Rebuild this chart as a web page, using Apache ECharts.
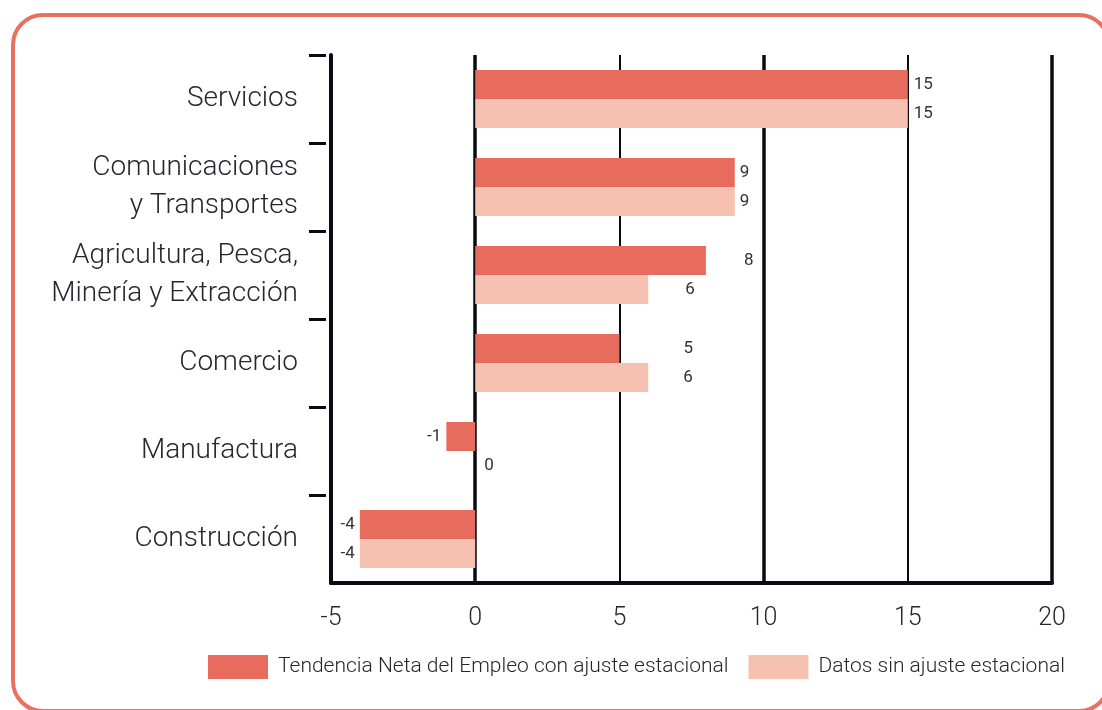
<!DOCTYPE html>
<html>
<head>
<meta charset="utf-8">
<script src="https://cdn.jsdelivr.net/npm/echarts@6/dist/echarts.min.js"></script>
<style>
  html, body { margin: 0; padding: 0; background: #fff; overflow: hidden; }
  #frame { position: absolute; left: 11px; top: 13px; width: 1100px; height: 700px; box-sizing: border-box;
           border: 4px solid #E8705F; border-radius: 32px; pointer-events: none; }
  #chart { position: absolute; left: 0; top: 0; width: 1102px; height: 710px; }
</style>
</head>
<body>
<div id="frame"></div>
<div id="chart"></div>
<script>
const categories = ['Servicios', 'Comunicaciones\ny Transportes', 'Agricultura, Pesca,\nMinería y Extracción', 'Comercio', 'Manufactura', 'Construcción'];
const seriesNames = ['Tendencia Neta del Empleo con ajuste estacional', 'Datos sin ajuste estacional'];
const tendencia = [15, 9, 8, 5, -1, -4];
const sinAjuste = [15, 9, 6, 6, 0, -4];
const xMin = -5, xMax = 20, xStep = 5;
const heavyLines = [0, 10, 20];

// label distances (style only)
const tendLabelGap = [6, 5, 38, 64, 5, 5];
const sinLabelGap = [6, 5, 37, 35, 9, 5];

const colors = ['#E76C5E', '#F7C1B2'];
const textColor = '#26262e';
const font = 'Roboto, "Liberation Sans", sans-serif';

function items(vals, gaps) {
  return vals.map((v, i) => ({
    value: v,
    label: { position: v < 0 ? 'left' : 'right', distance: gaps[i] }
  }));
}

const chart = echarts.init(document.getElementById('chart'), null, { renderer: 'canvas' });
chart.setOption({
  animation: false,
  backgroundColor: 'transparent',
  grid: { left: 331, right: 50, top: 55, bottom: 127, containLabel: false },
  xAxis: {
    type: 'value', min: xMin, max: xMax, interval: xStep,
    axisLine: { show: true, onZero: false, lineStyle: { color: '#0a0a14', width: 4 } },
    axisTick: { show: false },
    axisLabel: { color: textColor, fontSize: 25, margin: 23, fontFamily: font, fontWeight: 300 },
    splitLine: { show: true, lineStyle: { color: '#0a0a14', width: 2 } }
  },
  yAxis: [
    {
      type: 'category', data: categories, inverse: true, position: 'left',
      axisLine: { show: true, onZero: false, lineStyle: { color: '#0a0a14', width: 4 } },
      axisTick: { show: false },
      axisLabel: { color: textColor, fontSize: 28, lineHeight: 38, margin: 33, align: 'right',
                   fontFamily: font, fontWeight: 300 }
    },
    {
      type: 'value', min: 0, max: 6, interval: 1, inverse: true, position: 'left', offset: 5,
      axisLine: { show: false, onZero: false },
      axisTick: { show: true, length: 17, lineStyle: { color: '#0a0a14', width: 3 }, customValues: [0, 1, 2, 3, 4, 5] },
      axisLabel: { show: false },
      splitLine: { show: false }
    }
  ],
  legend: {
    left: 203, top: 650, itemWidth: 60, itemHeight: 24, itemGap: 20, icon: 'rect',
    textStyle: { color: textColor, fontSize: 21, padding: [0, 0, 0, 5], fontFamily: font, fontWeight: 300 },
    data: seriesNames
  },
  series: [
    {
      name: 'grid-lines', type: 'line', data: [], z: 0, silent: true,
      markLine: {
        z: 1, silent: true, symbol: 'none', label: { show: false }, animation: false,
        lineStyle: { color: '#0a0a14', width: 3.5, type: 'solid' },
        data: heavyLines.map(v => ({ xAxis: v }))
      }
    },
    {
      name: seriesNames[0], type: 'bar', yAxisIndex: 0, barWidth: 29, barGap: '0%',
      itemStyle: { color: colors[0] },
      label: { show: true, color: '#333', fontSize: 17, fontFamily: font },
      data: items(tendencia, tendLabelGap),
      z: 3
    },
    {
      name: seriesNames[1], type: 'bar', yAxisIndex: 0, barWidth: 29, barGap: '0%',
      itemStyle: { color: colors[1] },
      label: { show: true, color: '#333', fontSize: 17, fontFamily: font },
      data: items(sinAjuste, sinLabelGap),
      z: 3
    }
  ]
});
</script>
</body>
</html>
